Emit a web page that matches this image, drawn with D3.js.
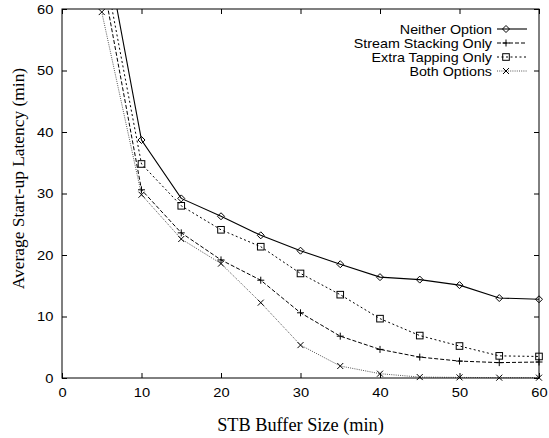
<!DOCTYPE html>
<html><head><meta charset="utf-8">
<script src="https://cdn.jsdelivr.net/npm/d3@7"></script>
<style>body{margin:0;background:#fff}svg{display:block}</style>
</head><body>
<script>
const bufferSizes = [5,10,15,20,25,30,35,40,45,50,55,60];
const neitherOption = [73.3,38.7,29.2,26.3,23.2,20.7,18.5,16.4,16.0,15.1,13.0,12.8];
const streamStackingOnly = [65.5,30.6,23.6,19.2,15.9,10.6,6.8,4.65,3.4,2.75,2.5,2.6];
const extraTappingOnly = [68.8,34.8,28.0,24.1,21.35,17.0,13.55,9.65,6.9,5.2,3.6,3.5];
const bothOptions = [59.5,29.8,22.6,18.6,12.25,5.35,1.95,0.7,0.15,0.1,0.05,0.05];
const seriesNames = ["Neither Option","Stream Stacking Only","Extra Tapping Only","Both Options"];
const xTicks = [0,10,20,30,40,50,60];
const yTicks = [0,10,20,30,40,50,60];
const xTitle = "STB Buffer Size (min)";
const yTitle = "Average Start-up Latency (min)";

const W=549,H=438, L=62,R=539,T=9,B=378;
const SANS="Liberation Sans, Arial, sans-serif", SERIF="Liberation Serif, Times New Roman, serif";
const svg=d3.select("body").append("svg").attr("width",W).attr("height",H);
const x=d3.scaleLinear().domain([0,60]).range([L,R]);
const y=d3.scaleLinear().domain([0,60]).range([B,T]);

const series=[
 {name:seriesNames[0],vals:neitherOption,dash:null,marker:"diamond",color:"#000",w:1.1},
 {name:seriesNames[1],vals:streamStackingOnly,dash:"4,2",marker:"plus",color:"#000",w:1},
 {name:seriesNames[2],vals:extraTappingOnly,dash:"2,2.5",marker:"square",color:"#000",w:1},
 {name:seriesNames[3],vals:bothOptions,dash:"1,1.2",marker:"cross",color:"#555",w:1}
];

svg.append("clipPath").attr("id","c").append("rect").attr("x",L-4).attr("y",T).attr("width",R-L+8).attr("height",B-T+4);

function marker(g,m,cx,cy){
  const s=3.5;
  if(m==="diamond") g.append("path").attr("d",`M${cx},${cy-s}L${cx+s},${cy}L${cx},${cy+s}L${cx-s},${cy}Z`).attr("fill","none").attr("stroke","#000").attr("stroke-width",1);
  else if(m==="square") g.append("rect").attr("x",cx-3.3).attr("y",cy-3.3).attr("width",6.6).attr("height",6.6).attr("fill","none").attr("stroke","#000").attr("stroke-width",1);
  else if(m==="plus") g.append("path").attr("d",`M${cx-3.5},${cy}H${cx+3.5}M${cx},${cy-3.5}V${cy+3.5}`).attr("stroke","#000").attr("stroke-width",1);
  else g.append("path").attr("d",`M${cx-3},${cy-3}L${cx+3},${cy+3}M${cx-3},${cy+3}L${cx+3},${cy-3}`).attr("stroke","#000").attr("stroke-width",1);
}

const plot=svg.append("g").attr("clip-path","url(#c)");
const line=d3.line().x((d,i)=>x(bufferSizes[i])).y(d=>y(d));
series.forEach(s=>{
  plot.append("path").datum(s.vals).attr("d",line).attr("fill","none").attr("stroke",s.color).attr("stroke-width",s.w).attr("stroke-dasharray",s.dash);
  s.vals.forEach((v,i)=>{ if(v<=60.5) marker(plot,s.marker,x(bufferSizes[i]),y(v)); });
});

// frame
svg.append("rect").attr("x",L).attr("y",T).attr("width",R-L).attr("height",B-T).attr("fill","none").attr("stroke","#000").attr("stroke-width",1);

// axes with inward ticks
const SX=1.13;
const xa=svg.append("g").attr("transform",`translate(0,${B})`).call(d3.axisBottom(x).tickValues(xTicks).tickSize(-5).tickPadding(10));
const xt=svg.append("g").attr("transform",`translate(0,${T})`).call(d3.axisTop(x).tickValues(xTicks).tickSize(-5).tickFormat(""));
const ya=svg.append("g").attr("transform",`translate(${L},0)`).call(d3.axisLeft(y).tickValues(yTicks).tickSize(-5).tickPadding(7.7));
const yr=svg.append("g").attr("transform",`translate(${R},0)`).call(d3.axisRight(y).tickValues(yTicks).tickSize(-5).tickFormat(""));
[xa,xt,ya,yr].forEach(g=>{g.select(".domain").remove();g.selectAll("text").attr("font-family",SANS).attr("font-size",13).attr("fill","#000").attr("transform",`scale(${SX},1)`);});
xa.selectAll("text").attr("x",0);

// titles
svg.append("text").attr("x",(L+R)/2).attr("y",431).attr("text-anchor","middle").attr("font-family",SERIF).attr("font-size",18.3).text(xTitle);
svg.append("text").attr("transform",`translate(24,${(T+B)/2-15}) rotate(-90)`).attr("text-anchor","middle").attr("font-family",SERIF).attr("font-size",17.4).text(yTitle);

// legend
const leg=svg.append("g");
series.forEach((s,i)=>{
  const yy=29+i*14;
  leg.append("text").attr("transform",`translate(492,${yy+4.5}) scale(1.1,1)`).attr("text-anchor","end").attr("font-family",SANS).attr("font-size",13).text(s.name);
  leg.append("line").attr("x1",497).attr("x2",527).attr("y1",yy).attr("y2",yy).attr("stroke",s.color).attr("stroke-width",s.w).attr("stroke-dasharray",s.dash);
  marker(leg,s.marker,506,yy);
});
</script>
</body></html>
